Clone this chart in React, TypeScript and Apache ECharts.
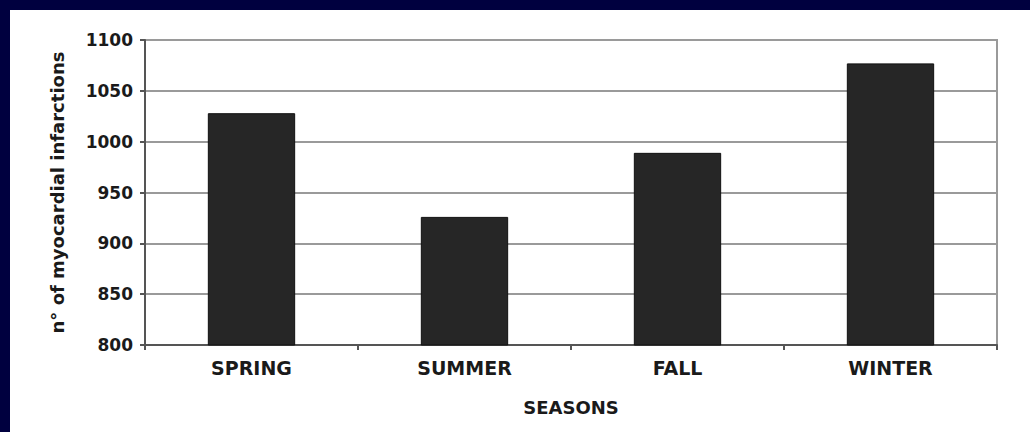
import React, { useEffect, useRef } from "react";
import * as echarts from "echarts";

const categories = ["SPRING", "SUMMER", "FALL", "WINTER"];
const infarctions = [1028, 926, 989, 1077];
const yMin = 800;
const yMax = 1100;
const yInterval = 50;

export default function App() {
  const ref = useRef<HTMLDivElement>(null);
  useEffect(() => {
    if (!ref.current) return;
    const chart = echarts.init(ref.current, undefined, { renderer: "svg" });
    const font = "'DejaVu Sans', sans-serif";
    chart.setOption({
      animation: false,
      backgroundColor: "#ffffff",
      grid: {
        left: 135,
        top: 30,
        width: 852,
        height: 305,
        show: true,
        borderColor: "#9a9a9a",
        borderWidth: 2,
        backgroundColor: "transparent",
      },
      xAxis: {
        type: "category",
        data: categories,
        name: "SEASONS",
        nameLocation: "middle",
        nameGap: 53,
        nameTextStyle: {
          fontFamily: font,
          fontWeight: "bold",
          fontSize: 18,
          color: "#1a1a1a",
          verticalAlign: "top",
        },
        axisLine: { lineStyle: { color: "#555555", width: 2 } },
        axisTick: { show: true, length: 5, lineStyle: { color: "#555555", width: 2 } },
        axisLabel: {
          margin: 13,
          fontFamily: font,
          fontWeight: "bold",
          fontSize: 19,
          color: "#1a1a1a",
        },
      },
      yAxis: {
        type: "value",
        min: yMin,
        max: yMax,
        interval: yInterval,
        name: "n° of myocardial infarctions",
        nameLocation: "middle",
        nameGap: 79,
        nameTextStyle: {
          fontFamily: font,
          fontWeight: "bold",
          fontSize: 18,
          color: "#1a1a1a",
        },
        axisLine: { show: true, lineStyle: { color: "#555555", width: 2 } },
        axisTick: { show: true, length: 5, lineStyle: { color: "#555555", width: 2 } },
        axisLabel: {
          margin: 12,
          fontFamily: font,
          fontWeight: "bold",
          fontSize: 17,
          color: "#1a1a1a",
          formatter: (v: number) => String(v),
        },
        splitLine: { show: true, lineStyle: { color: "#9a9a9a", width: 2 } },
      },
      series: [
        {
          type: "bar",
          data: infarctions,
          barWidth: "41%",
          itemStyle: { color: "#262626", borderColor: "#111111", borderWidth: 1 },
        },
      ],
    });
    return () => chart.dispose();
  }, []);
  return (
    <div
      style={{
        position: "fixed",
        left: 0,
        top: 0,
        width: 1030,
        height: 432,
        background: "#00003f",
      }}
    >
      <div
        ref={ref}
        style={{ position: "absolute", left: 10, top: 10, width: 1020, height: 422 }}
      />
    </div>
  );
}
